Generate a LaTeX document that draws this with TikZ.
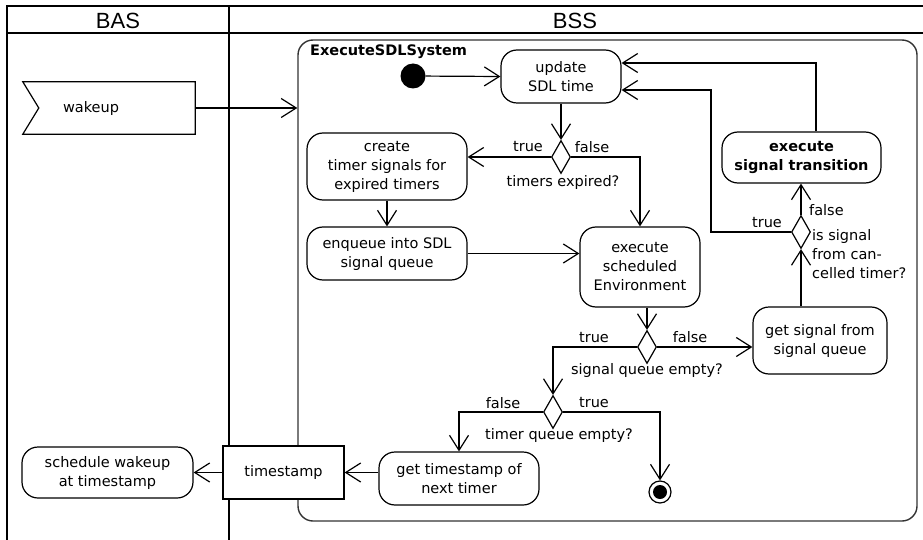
\documentclass[tikz,border=0pt]{standalone}
\usepackage{fontspec}
\setmainfont{DejaVu Sans}
\newfontfamily\lanefont{Liberation Sans}
\usetikzlibrary{arrows.meta,shapes.geometric,calc}

\tikzset{
  base/.style={font=\fontsize{14.5}{19}\selectfont},
  action/.style={base, draw, rounded corners=16pt, align=center, inner sep=0pt, line width=1.2pt, fill=white},
  pinbox/.style={base, draw, rectangle, inner sep=0pt, line width=1.2pt, fill=white},
  decision/.style={draw, diamond, inner sep=0pt, minimum width=19pt, minimum height=33pt, line width=1.2pt, fill=white},
  flow/.style={line width=1.2pt, -{Straight Barb[length=15pt,width=19pt]}},
  plain/.style={line width=1.2pt},
  guard/.style={base, inner sep=1pt},
  lane/.style={line width=2.4pt},
  headtext/.style={font=\lanefont\fontsize{22}{26}\selectfont},
}

\begin{document}
\begin{tikzpicture}[x=1pt, y=-1pt]
\useasboundingbox (0,0) rectangle (923,540);

% swimlanes
\draw[lane] (7,540) -- (7,6) -- (923,6);
\draw[lane] (7,33) -- (923,33);
\draw[lane] (229,6) -- (229,540);
\node[headtext] (bas) at (118,20.5) {BAS};
\node[headtext] (bss) at (575,20.5) {BSS};

% activity frame
\node[draw=black!80, line width=1.4pt, rounded corners=15pt, minimum width=619pt, minimum height=481pt, inner sep=0pt] (sys) at (607.5,280.5) {};
\node[base, anchor=west, inner sep=0pt] (sysname) at (310,52) {\bfseries ExecuteSDLSystem};

% accept-signal action
\node[minimum width=172pt, minimum height=52pt, inner sep=0pt] (wk) at (109,108) {};
\draw[plain] (wk.north west) -- (wk.north east) -- (wk.south east) -- (wk.south west) -- ($(wk.west)+(16,0)$) -- cycle;
\node[base] (wktext) at (91,109) {wakeup};

% actions
\node[circle, fill, inner sep=0pt, minimum size=25pt] (init) at (413,76) {};
\node[action, minimum width=120pt, minimum height=53pt] (ud) at (561,76.5) {update\\SDL time};
\node[action, minimum width=160pt, minimum height=67pt] (ct) at (387,166.5) {create\\timer signals for\\expired timers};
\node[action, minimum width=160pt, minimum height=53pt] (enq) at (387,253.5) {enqueue into SDL\\signal queue};
\node[action, minimum width=120pt, minimum height=80pt] (ee) at (640,267) {execute\\scheduled\\Environment};
\node[action, minimum width=134pt, minimum height=67pt] (gs) at (820,340.5) {get signal from\\signal queue};
\node[action, minimum width=159pt, minimum height=51pt, font=\fontsize{14.5}{19}\selectfont\bfseries] (est) at (801.5,157.5) {execute\\signal transition};
\node[action, minimum width=160pt, minimum height=53pt] (gts) at (459,478.5) {get timestamp of\\next timer};
\node[action, minimum width=171pt, minimum height=51pt] (sch) at (107.5,472.5) {schedule wakeup\\at timestamp};
\node[pinbox, minimum width=121pt, minimum height=53pt] (ts) at (283.5,472.5) {timestamp};

\node[circle, draw, line width=1.2pt, inner sep=0pt, minimum size=22pt] (fin) at (660,492) {};
\node[circle, fill, inner sep=0pt, minimum size=14pt] (fincore) at (fin) {};

% decisions
\node[decision] (d1) at (561,157) {};
\node[decision] (d2) at (647,347) {};
\node[decision] (d3) at (553,412) {};
\node[decision] (d4) at (801,232) {};

% decision texts
\node[guard] (d1t) at (528,147) {true};
\node[guard] (d1f) at (592,147) {false};
\node[guard] (d1q) at (563,183) {timers expired?};
\node[guard] (d2t) at (594,338) {true};
\node[guard] (d2f) at (690,337) {false};
\node[guard] (d2q) at (647,370) {signal queue empty?};
\node[guard] (d3f) at (503,403) {false};
\node[guard] (d3t) at (594,403) {true};
\node[guard] (d3q) at (559,435) {timer queue empty?};
\node[guard] (d4t) at (767,223) {true};
\node[guard, anchor=west] (d4f) at (808,210) {false};
\node[guard, anchor=west, align=left] (d4q) at (811,254) {is signal\\from can-\\celled timer?};

% flows
\draw[flow] (wk.east) -- (wk.east -| sys.west);
\draw[flow] (init) -- (ud.west);
\draw[flow] (ud.south) -- (d1.north);
\draw[flow] (d1.west) -- (d1.west -| ct.east);
\draw[flow] (d1.east) -| (ee.north);
\draw[flow] (ct.south) -- (enq.north);
\draw[flow] (enq.east) -- (enq.east -| ee.west);
\draw[flow] (d2.north |- ee.south) -- (d2.north);
\draw[flow] (d2.east) -- (d2.east -| gs.west);
\draw[flow] (d2.west) -| (d3.north);
\draw[flow] (gs.north -| d4.south) -- (d4.south);
\draw[flow] (d4.north) -- (d4.north |- est.south);
\draw[flow] (d4.west) -- ++(-80,0) |- ($(ud.east)+(0,13.5)$);
\draw[flow] ($(est.north)+(14.5,0)$) |- ($(ud.east)+(0,-13.5)$);
\draw[flow] (d3.west) -| (gts.north);
\draw[flow] (d3.east) -| (fin.north);
\draw[flow] (ts.east -| gts.west) -- (ts.east);
\draw[flow] (ts.west) -- (sch.east);
\end{tikzpicture}
\end{document}
